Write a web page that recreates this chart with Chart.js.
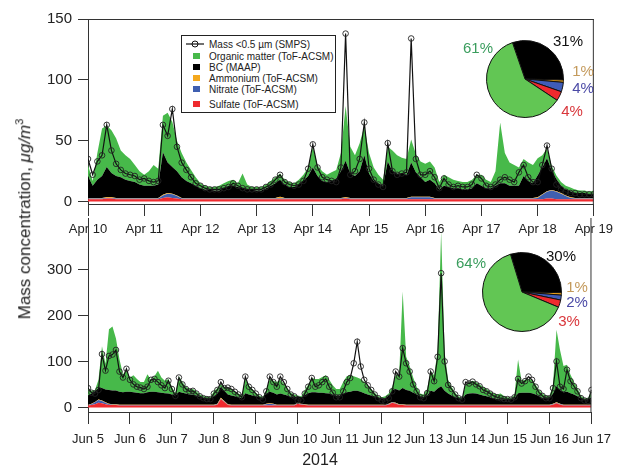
<!DOCTYPE html>
<html>
<head>
<meta charset="utf-8">
<script src="https://cdn.jsdelivr.net/npm/chart.js@4.4.1/dist/chart.umd.min.js"></script>
<style>
  body { margin: 0; background: #fff; }
  #wrap { position: relative; width: 619px; height: 468px; overflow: hidden; font-family: 'Liberation Sans', Arial, sans-serif; color: #222; }
  canvas { position: absolute; }
  .pct { position: absolute; font-size: 15px; transform: translate(-50%, -50%); white-space: nowrap; }
  #legend { position: absolute; left: 181px; top: 35px; width: 153px; height: 76px; border: 1px solid #222; background: #fff; font-size: 10px; }
  #legend .row { position: absolute; left: 27px; transform: translateY(-50%); white-space: nowrap; }
  #legend .sw { position: absolute; left: 11px; width: 7px; height: 6px; transform: translateY(-50%); }
  #ytitle { position: absolute; left: 24px; top: 219px; transform: translate(-50%, -50%) rotate(-90deg); white-space: nowrap; font-size: 17px; }
  #ytitle sup { font-size: 11px; }
  #year { position: absolute; left: 320px; top: 460px; transform: translate(-50%, -50%); font-size: 16px; }
</style>
</head>
<body>
<div id="wrap">
  <canvas id="apr" width="619" height="245" style="left:0;top:0"></canvas>
  <canvas id="jun" width="619" height="268" style="left:0;top:200px"></canvas>
  <canvas id="aprPie" width="78" height="78" style="left:486px;top:40px"></canvas>
  <canvas id="junPie" width="80" height="80" style="left:482px;top:252px"></canvas>

  <div id="legend">
    <svg style="position:absolute;left:4px;top:4px" width="20" height="8"><line x1="0" y1="4" x2="18" y2="4" stroke="#111" stroke-width="1.2"/><circle cx="9" cy="4" r="3" fill="none" stroke="#111" stroke-width="1"/></svg>
    <div class="row" style="top:8px">Mass &lt;0.5 µm (SMPS)</div>
    <div class="sw" style="top:20px;background:#47b94a"></div>
    <div class="row" style="top:20px">Organic matter (ToF-ACSM)</div>
    <div class="sw" style="top:31px;background:#000"></div>
    <div class="row" style="top:31px">BC (MAAP)</div>
    <div class="sw" style="top:42px;background:#f4a81d"></div>
    <div class="row" style="top:42px">Ammonium (ToF-ACSM)</div>
    <div class="sw" style="top:53px;background:#3f5fb0"></div>
    <div class="row" style="top:53px">Nitrate (ToF-ACSM)</div>
    <div class="sw" style="top:68px;background:#ee2a2e"></div>
    <div class="row" style="top:68px">Sulfate (ToF-ACSM)</div>
  </div>

  <div class="pct" style="left:478px;top:47px;color:#3a9d5d">61%</div>
  <div class="pct" style="left:568px;top:40px;color:#111">31%</div>
  <div class="pct" style="left:583px;top:70px;color:#c49a5c">1%</div>
  <div class="pct" style="left:583px;top:87px;color:#4b4aa6">4%</div>
  <div class="pct" style="left:572px;top:110px;color:#d9363b">4%</div>

  <div class="pct" style="left:471px;top:262px;color:#3a9d5d">64%</div>
  <div class="pct" style="left:561px;top:255px;color:#111">30%</div>
  <div class="pct" style="left:577px;top:286px;color:#c49a5c">1%</div>
  <div class="pct" style="left:577px;top:301px;color:#4b4aa6">2%</div>
  <div class="pct" style="left:569px;top:320px;color:#d9363b">3%</div>

  <div id="ytitle">Mass concentration, <i>μg/m</i><sup>3</sup></div>
  <div id="year">2014</div>
</div>

<script>
// 2-hourly values, one row per day

const aprTicks = ['Apr 10', 'Apr 11', 'Apr 12', 'Apr 13', 'Apr 14', 'Apr 15', 'Apr 16', 'Apr 17', 'Apr 18', 'Apr 19'];
const junTicks = ['Jun 5', 'Jun 6', 'Jun 7', 'Jun 8', 'Jun 9', 'Jun 10', 'Jun 11', 'Jun 12', 'Jun 13', 'Jun 14', 'Jun 15', 'Jun 16', 'Jun 17'];
const aprYTicks = [0, 50, 100, 150];
const junYTicks = [0, 100, 200, 300];

const aprMass = [
  35, 22, 33, 38, 63, 42, 31, 26, 23, 22, 21, 18,
  19, 17, 16, 17, 63, 54, 76, 45, 32, 26, 20, 15,
  13, 11, 10, 10, 10, 11, 12, 15, 13, 11, 10, 10,
  10, 10, 12, 14, 18, 22, 16, 14, 13, 14, 17, 27,
  47, 28, 20, 18, 17, 16, 28, 138, 22, 25, 35, 65,
  27, 18, 14, 12, 48, 25, 22, 23, 24, 134, 35, 22,
  22, 25, 20, 11, 19, 14, 12, 13, 12, 12, 14, 22,
  19, 13, 12, 14, 18, 20, 18, 16, 24, 30, 20, 16,
  16, 30, 46, 27, 14, 10, 8, 7, 7, 6, 6, 6,
  6
];
const aprOrganic = [
  9, 4, 22, 39, 34, 35, 31, 22, 20, 18, 14, 11,
  9, 12, 17, 13, 30, 41, 37, 25, 20, 15, 11, 7,
  4, 3, 2, 3, 4, 4, 4, 5, 3, 12, 4, 2,
  3, 3, 3, 4, 5, 5, 4, 4, 3, 4, 5, 7,
  17, 9, 8, 6, 7, 7, 15, 45, 22, 17, 23, 24,
  17, 11, 7, 5, 12, 17, 15, 13, 13, 19, 15, 13,
  15, 15, 13, 6, 9, 8, 7, 6, 6, 6, 7, 7,
  9, 7, 5, 12, 50, 25, 19, 17, 15, 14, 15, 15,
  14, 10, 8, 4, 3, 3, 3, 3, 3, 2, 2, 2,
  3
];
const aprBC = [
  18, 10, 15, 18, 25, 20, 18, 17, 15, 14, 13, 11,
  10, 10, 10, 11, 35, 25, 22, 20, 17, 14, 12, 10,
  8, 7, 7, 6, 6, 8, 10, 10, 9, 8, 7, 7,
  6, 6, 8, 10, 12, 14, 11, 9, 9, 11, 14, 18,
  25, 18, 14, 13, 14, 16, 22, 30, 20, 18, 22, 35,
  20, 14, 12, 10, 30, 22, 20, 20, 19, 28, 20, 16,
  12, 14, 12, 7, 10, 9, 8, 8, 7, 7, 8, 12,
  10, 8, 8, 10, 12, 12, 10, 10, 10, 18, 14, 12,
  18, 22, 27, 16, 10, 6, 5, 5, 4, 4, 4, 3,
  3
];
const aprAmmonium = [
  0.5, 0.5, 0.5, 0.5, 0.5, 0.5, 0.5, 0.5, 0.5, 0.5, 0.5, 0.5,
  0.5, 0.5, 0.5, 0.5, 0.5, 0.5, 0.5, 0.5, 0.5, 0.5, 0.5, 0.5,
  0.5, 0.5, 0.5, 0.5, 0.5, 0.5, 0.5, 0.5, 0.5, 0.5, 0.5, 0.5,
  0.5, 0.5, 0.5, 0.5, 0.5, 1.5, 0.5, 0.5, 0.5, 0.5, 0.5, 0.5,
  0.5, 0.5, 0.5, 0.5, 0.5, 0.5, 0.5, 0.5, 0.5, 0.5, 0.5, 0.5,
  0.5, 0.5, 0.5, 0.5, 0.5, 0.5, 0.5, 0.5, 0.5, 0.5, 0.5, 0.5,
  0.5, 0.5, 0.5, 0.5, 0.5, 0.5, 0.5, 0.5, 0.5, 0.5, 0.5, 0.5,
  0.5, 0.5, 0.5, 0.5, 0.5, 0.5, 0.5, 0.5, 0.5, 0.5, 0.5, 0.5,
  0.5, 0.5, 0.5, 0.5, 0.5, 0.5, 0.5, 0.5, 0.5, 0.5, 0.5, 0.5,
  0.5
];
const aprNitrate = [
  0.5, 0.5, 0.5, 0.5, 0.5, 0.5, 0.5, 0.5, 0.5, 0.5, 0.5, 0.5,
  0.5, 0.5, 0.5, 0.5, 2, 3, 3, 2, 0.5, 0.5, 0.5, 0.5,
  0.5, 0.5, 0.5, 0.5, 0.5, 0.5, 0.5, 0.5, 0.5, 0.5, 0.5, 0.5,
  0.5, 0.5, 0.5, 0.5, 0.5, 0.5, 0.5, 0.5, 0.5, 0.5, 0.5, 0.5,
  0.5, 0.5, 0.5, 0.5, 0.5, 0.5, 0.5, 0.5, 0.5, 0.5, 0.5, 0.5,
  0.5, 0.5, 0.5, 0.5, 0.5, 0.5, 0.5, 0.5, 0.5, 1.5, 1.5, 1.5,
  1.5, 1.5, 0.5, 0.5, 0.5, 0.5, 0.5, 0.5, 0.5, 0.5, 0.5, 0.5,
  0.5, 0.5, 0.5, 0.5, 0.5, 0.5, 0.5, 0.5, 0.5, 0.5, 0.5, 0.5,
  1, 3.5, 5.5, 6.5, 6, 4.5, 2.5, 1, 0.5, 0.5, 0.5, 0.5,
  0.5
];
const aprSulfate = [
  2, 2, 2, 2, 2.5, 2.5, 2, 2, 2, 2, 2, 2,
  2, 2, 2, 2, 3, 3.5, 3, 2.5, 2, 2, 2, 2,
  2, 2, 2, 2, 2, 2, 2, 2, 2, 2, 2, 2,
  2, 2, 2, 2, 2, 2, 2, 2, 2, 2, 2, 2,
  2, 2, 2, 2, 2, 2, 2, 2.5, 2, 2, 2, 2,
  2, 2, 2, 2, 2, 2, 2, 2, 2, 2, 2, 2,
  2, 2, 2, 2, 2, 2, 2, 2, 2, 2, 2, 2,
  2, 2, 2, 2, 2, 2, 2, 2, 2, 2, 2, 2,
  2, 2, 2.5, 2.5, 2, 2, 2, 2, 2, 2, 2, 2,
  2
];

const junMass = [
  42, 32, 30, 38, 116, 80, 112, 115, 125, 78, 65, 84,
  60, 50, 45, 43, 40, 45, 60, 62, 55, 48, 42, 58,
  40, 25, 65, 50, 40, 35, 36, 30, 24, 20, 18, 18,
  30, 38, 55, 42, 43, 40, 34, 28, 22, 67, 45, 38,
  30, 22, 17, 35, 67, 55, 45, 67, 55, 40, 28, 24,
  15, 15, 30, 45, 64, 45, 48, 55, 62, 45, 32, 22,
  22, 35, 55, 64, 96, 143, 89, 60, 48, 38, 28, 20,
  15, 13, 20, 35, 78, 67, 129, 96, 78, 50, 35, 22,
  20, 31, 78, 57, 110, 292, 100, 49, 40, 28, 20, 17,
  55, 52, 56, 50, 46, 38, 35, 30, 25, 22, 20, 18,
  18, 17, 22, 62, 52, 57, 67, 60, 45, 32, 25, 20,
  20, 42, 100, 45, 40, 82, 57, 46, 35, 20, 15, 14,
  38
];
const junOrganic = [
  14, 6, 3, 18, 91, 56, 132, 139, 113, 71, 39, 46,
  31, 37, 30, 24, 24, 39, 26, 34, 47, 33, 27, 32,
  17, 4, 34, 23, 15, 12, 12, 9, 5, 4, 3, 2,
  11, 12, 5, 9, 14, 14, 11, 8, 6, 31, 20, 14,
  8, 4, 2, 8, 28, 26, 27, 30, 24, 16, 9, 6,
  1, 2, 11, 19, 31, 29, 30, 34, 39, 30, 20, 14,
  14, 25, 35, 36, 32, 29, 28, 24, 20, 14, 8, 3,
  2, 4, 4, 8, 30, 35, 210, 72, 54, 33, 17, 6,
  6, 14, 44, 36, 84, 337, 84, 30, 19, 10, 4, 2,
  22, 25, 27, 25, 22, 19, 16, 13, 10, 9, 12, 8,
  4, 2, 8, 73, 26, 28, 30, 29, 22, 14, 9, 5,
  4, 20, 123, 87, 57, 59, 40, 27, 18, 5, 2, 2,
  13
];
const junBC = [
  20, 22, 23, 25, 27, 28, 30, 30, 30, 28, 27, 28,
  28, 27, 26, 25, 25, 27, 28, 28, 27, 26, 25, 24,
  22, 20, 28, 26, 24, 22, 22, 20, 17, 15, 14, 14,
  18, 22, 24, 22, 21, 20, 18, 16, 14, 25, 22, 20,
  18, 16, 14, 22, 25, 24, 22, 24, 22, 20, 17, 16,
  15, 14, 20, 25, 27, 27, 26, 26, 25, 24, 22, 20,
  20, 24, 27, 28, 30, 30, 28, 25, 22, 20, 18, 16,
  14, 14, 18, 25, 30, 30, 35, 32, 30, 26, 22, 18,
  16, 20, 30, 28, 35, 40, 30, 24, 20, 16, 14, 12,
  22, 24, 25, 24, 22, 20, 18, 16, 14, 13, 12, 11,
  12, 12, 14, 25, 26, 26, 26, 25, 22, 18, 15, 14,
  14, 22, 35, 30, 27, 28, 25, 22, 18, 14, 12, 12,
  16
];
const junAmmonium = [
  1, 1, 1, 1, 1, 1, 1, 1, 1, 1, 1, 1,
  1, 1, 1, 1, 1, 1, 1, 1, 1, 1, 1, 1,
  1, 1, 1, 1, 1, 1, 1, 1, 1, 1, 1, 1,
  1, 1, 2, 1, 1, 1, 1, 1, 1, 1, 1, 1,
  1, 1, 1, 1, 1, 1, 1, 1, 1, 1, 1, 1,
  1, 1, 1, 1, 1, 1, 1, 1, 1, 1, 1, 1,
  1, 1, 1, 1, 1, 1, 1, 1, 1, 1, 1, 1,
  1, 1, 1, 1, 1, 1, 1, 1, 1, 1, 1, 1,
  1, 1, 1, 1, 1, 1, 1, 1, 1, 1, 1, 1,
  1, 1, 1, 1, 1, 1, 1, 1, 1, 1, 1, 1,
  1, 1, 1, 1, 1, 1, 1, 1, 1, 1, 1, 1,
  1, 1, 1, 1, 1, 1, 1, 1, 1, 1, 1, 1,
  1
];
const junNitrate = [
  1, 2, 4, 6, 5, 3, 2, 1, 1, 1, 1, 1,
  1, 1, 1, 1, 1, 1, 1, 1, 1, 1, 1, 1,
  1, 1, 1, 1, 1, 1, 1, 1, 1, 1, 1, 1,
  1, 1, 1, 1, 1, 1, 1, 1, 1, 1, 1, 1,
  1, 1, 1, 3, 4, 3, 1, 1, 1, 1, 1, 1,
  1, 1, 1, 1, 1, 1, 1, 1, 1, 1, 1, 1,
  1, 1, 1, 1, 1, 1, 1, 1, 1, 1, 1, 1,
  1, 1, 1, 1, 1, 1, 1, 1, 1, 1, 1, 1,
  1, 1, 1, 1, 1, 1, 1, 1, 1, 1, 1, 1,
  1, 1, 1, 1, 1, 1, 1, 1, 1, 1, 1, 1,
  1, 1, 1, 1, 1, 1, 1, 1, 1, 1, 1, 1,
  1, 1, 1, 1, 1, 1, 1, 1, 1, 1, 1, 1,
  1
];
const junSulfate = [
  4, 5, 7, 10, 9, 7, 5, 5, 5, 4, 4, 4,
  4, 4, 4, 4, 4, 4, 4, 4, 4, 4, 4, 4,
  4, 4, 4, 4, 4, 4, 4, 4, 4, 4, 4, 4,
  4, 6, 18, 12, 5, 4, 4, 4, 4, 4, 4, 4,
  4, 4, 4, 4, 4, 4, 4, 4, 4, 4, 4, 4,
  8, 6, 5, 4, 4, 4, 4, 4, 4, 4, 4, 4,
  4, 4, 4, 4, 4, 4, 4, 4, 4, 4, 4, 4,
  4, 4, 6, 10, 8, 5, 5, 4, 4, 4, 4, 4,
  4, 4, 4, 4, 4, 4, 4, 4, 4, 4, 4, 4,
  4, 4, 4, 4, 4, 4, 4, 4, 4, 4, 4, 4,
  4, 4, 4, 4, 4, 4, 4, 4, 4, 4, 4, 4,
  4, 6, 9, 6, 4, 4, 4, 4, 4, 4, 4, 4,
  4
];

// pie slices, clockwise: BC, ammonium, nitrate, sulfate, organic
const pieNames = ['BC', 'Ammonium', 'Nitrate', 'Sulfate', 'Organic matter'];
const aprPie = [31, 1, 4, 4, 61];
const junPie = [30, 1, 2, 3, 64];

const colOrganic = '#47b94a';
const colBC = '#000000';
const colAmmonium = '#f4a81d';
const colNitrate = '#3f5fb0';
const colSulfate = '#ee2a2e';
const pieColors = ['#000000', '#f4a81d', '#3f5cb8', '#ee2a2e', '#62c654'];
const family = "'Liberation Sans', Arial, sans-serif";

function pts(vals) {
    return vals.map((v, i) => ({ x: i / 12, y: v }));
}

function areaSet(vals, color, fill) {
    return {
        data: pts(vals),
        backgroundColor: color,
        borderWidth: 0,
        pointRadius: 0,
        fill: fill,
        stack: 'comp',
        order: 1
    };
}

function massSet(vals) {
    return {
        data: pts(vals),
        borderColor: '#111',
        borderWidth: 1.2,
        pointRadius: 2.8,
        pointBorderWidth: 0.9,
        pointBorderColor: '#222',
        pointBackgroundColor: 'rgba(0,0,0,0)',
        fill: false,
        stack: 'mass',
        order: 0
    };
}

// top + right box lines, like the original figure
const framePlugin = {
    id: 'frame',
    afterDraw(chart, args, opts) {
        const ctx = chart.ctx;
        const a = chart.chartArea;
        ctx.save();
        ctx.strokeStyle = '#333';
        ctx.lineWidth = 1;
        ctx.beginPath();
        if (opts.top) {
            ctx.moveTo(a.left, a.top + 0.5);
            ctx.lineTo(a.right, a.top + 0.5);
        }
        ctx.moveTo(a.right - 0.5, a.top);
        ctx.lineTo(a.right - 0.5, a.bottom);
        ctx.stroke();
        ctx.restore();
    }
};

function makePanel(id, o) {
    return new Chart(document.getElementById(id), {
        type: 'line',
        data: {
            datasets: [
                areaSet(o.sulfate, colSulfate, 'origin'),
                areaSet(o.nitrate, colNitrate, '-1'),
                areaSet(o.ammonium, colAmmonium, '-1'),
                areaSet(o.bc, colBC, '-1'),
                areaSet(o.organic, colOrganic, '-1'),
                massSet(o.mass)
            ]
        },
        plugins: [framePlugin],
        options: {
            responsive: false,
            animation: false,
            devicePixelRatio: 1,
            elements: { line: { tension: 0 } },
            layout: { padding: { top: o.padTop, right: 19, left: 0, bottom: 0 } },
            plugins: {
                legend: { display: false },
                tooltip: { enabled: false },
                frame: { top: o.frameTop }
            },
            scales: {
                x: {
                    type: 'linear',
                    min: 0,
                    max: o.xTicks.length - 1,
                    afterFit: s => { s.height = o.xHeight; },
                    afterBuildTicks: s => { s.ticks = o.xTicks.map((t, i) => ({ value: i })); },
                    ticks: {
                        callback: v => o.xTicks[v],
                        font: { size: 13, family: family },
                        color: '#222',
                        padding: o.xPad,
                        maxRotation: 0,
                        autoSkip: false
                    },
                    grid: { drawOnChartArea: false, drawTicks: true, tickLength: 12, color: '#333' },
                    border: { display: true, color: '#333' }
                },
                y: {
                    stacked: true,
                    min: o.yMin,
                    max: o.yMax,
                    afterFit: s => { s.width = 88; },
                    afterBuildTicks: s => { s.ticks = o.yTicks.map(v => ({ value: v })); },
                    ticks: { font: { size: 15, family: family }, color: '#222', padding: 6 },
                    grid: { drawOnChartArea: false, drawTicks: true, tickLength: 10, color: '#333' },
                    border: { display: true, color: '#333' }
                }
            }
        }
    });
}

function makePie(id, vals, rot) {
    return new Chart(document.getElementById(id), {
        type: 'pie',
        data: {
            labels: pieNames,
            datasets: [{ data: vals, backgroundColor: pieColors, borderColor: '#111', borderWidth: 1 }]
        },
        options: {
            responsive: false,
            animation: false,
            devicePixelRatio: 1,
            rotation: rot,
            layout: { padding: 0 },
            plugins: { legend: { display: false }, tooltip: { enabled: false } }
        }
    });
}

makePanel('apr', {
    mass: aprMass, organic: aprOrganic, bc: aprBC,
    ammonium: aprAmmonium, nitrate: aprNitrate, sulfate: aprSulfate,
    xTicks: aprTicks, yTicks: aprYTicks,
    yMin: -2, yMax: 150, padTop: 19, xHeight: 41, xPad: 6, frameTop: true
});

makePanel('jun', {
    mass: junMass, organic: junOrganic, bc: junBC,
    ammonium: junAmmonium, nitrate: junNitrate, sulfate: junSulfate,
    xTicks: junTicks, yTicks: junYTicks,
    yMin: -10, yMax: 412, padTop: 18, xHeight: 56, xPad: 8, frameTop: false
});

makePie('aprPie', aprPie, -19);
makePie('junPie', junPie, -17);
</script>
</body>
</html>
